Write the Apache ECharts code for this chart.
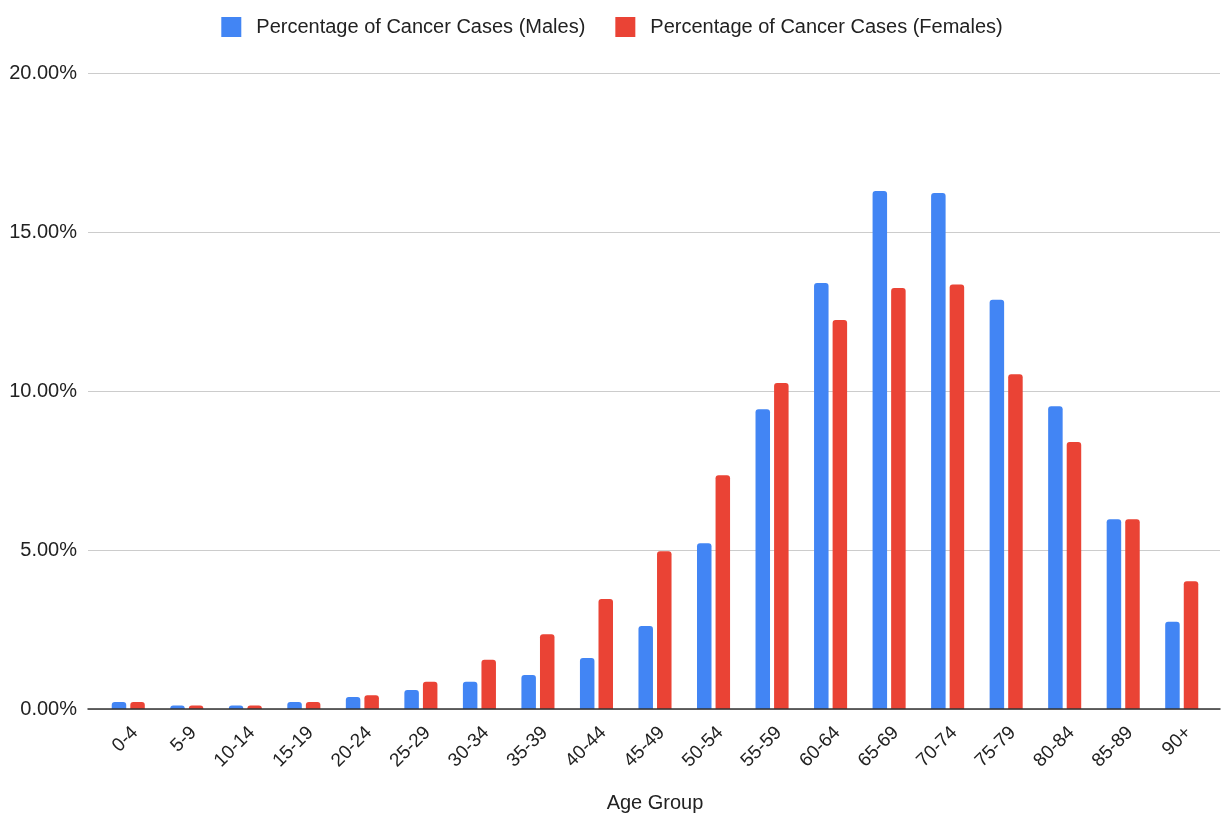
<!DOCTYPE html>
<html>
<head>
<meta charset="utf-8">
<script src="https://cdn.jsdelivr.net/npm/echarts@6/dist/echarts.min.js"></script>
<style>html,body{margin:0;padding:0;background:#fff;}#c{width:1224px;height:817px;}</style>
</head>
<body>
<div id="c"></div>
<script>
const categories = ['0-4','5-9','10-14','15-19','20-24','25-29','30-34','35-39','40-44','45-49','50-54','55-59','60-64','65-69','70-74','75-79','80-84','85-89','90+'];
const males = [0.22,0.11,0.11,0.22,0.38,0.60,0.86,1.07,1.60,2.61,5.21,9.43,13.40,16.29,16.23,12.87,9.52,5.97,2.74];
const females = [0.22,0.11,0.11,0.22,0.43,0.86,1.55,2.35,3.46,4.96,7.35,10.25,12.23,13.24,13.35,10.53,8.40,5.97,4.02];
const yTicks = [0,5,10,15,20];
const seriesNames = ['Percentage of Cancer Cases (Males)','Percentage of Cancer Cases (Females)'];

const font = '"Liberation Sans", Arial, sans-serif';
const yMin = yTicks[0], yMax = yTicks[yTicks.length-1];
const chart = echarts.init(document.getElementById('c'));
chart.setOption({
  animation: false,
  textStyle: {fontFamily: font},
  legend: {
    top: 12, left: 'center',
    icon: 'rect', itemWidth: 20, itemHeight: 20, itemGap: 30,
    textStyle: {fontSize: 20, color: '#222', fontFamily: font, padding: [0,0,0,10]},
    data: seriesNames
  },
  grid: [
    {left: 88, right: 4, top: 73, bottom: 108, containLabel: false, outerBoundsMode: 'none'},
    {left: 99, right: 13, top: 73, bottom: 108, containLabel: false, outerBoundsMode: 'none'}
  ],
  xAxis: [
    {
      gridIndex: 0, type: 'category', data: categories,
      axisTick: {show: false}, axisLabel: {show: false},
      axisLine: {lineStyle: {color: '#333', width: 1.5}},
      z: 5
    },
    {
      gridIndex: 1, type: 'category', data: categories,
      name: 'Age Group',
      nameLocation: 'middle',
      nameGap: 84,
      nameTextStyle: {fontSize: 20, color: '#222', fontFamily: font},
      axisTick: {show: false},
      axisLine: {show: false},
      axisLabel: {rotate: 45, fontSize: 19, color: '#222', margin: 14, interval: 0, fontFamily: font,
        align: 'right', verticalAlign: 'top'}
    }
  ],
  yAxis: [
    {
      gridIndex: 0, type: 'value',
      min: yMin, max: yMax, interval: 5,
      axisLine: {show: false},
      axisTick: {show: false},
      splitLine: {lineStyle: {color: '#cccccc', width: 1}},
      axisLabel: {fontSize: 20, color: '#222', margin: 11, fontFamily: font,
        formatter: v => v.toFixed(2) + '%'}
    },
    {
      gridIndex: 1, type: 'value',
      min: yMin, max: yMax, interval: 5,
      show: false, splitLine: {show: false}
    }
  ],
  series: [
    {name: seriesNames[0], type: 'bar', data: males, xAxisIndex: 1, yAxisIndex: 1,
     barWidth: 14.5, barGap: '28%',
     itemStyle: {color: '#4285F4', borderRadius: [3,3,0,0]}},
    {name: seriesNames[1], type: 'bar', data: females, xAxisIndex: 1, yAxisIndex: 1,
     barWidth: 14.5,
     itemStyle: {color: '#EA4335', borderRadius: [3,3,0,0]}}
  ]
});
</script>
</body>
</html>
